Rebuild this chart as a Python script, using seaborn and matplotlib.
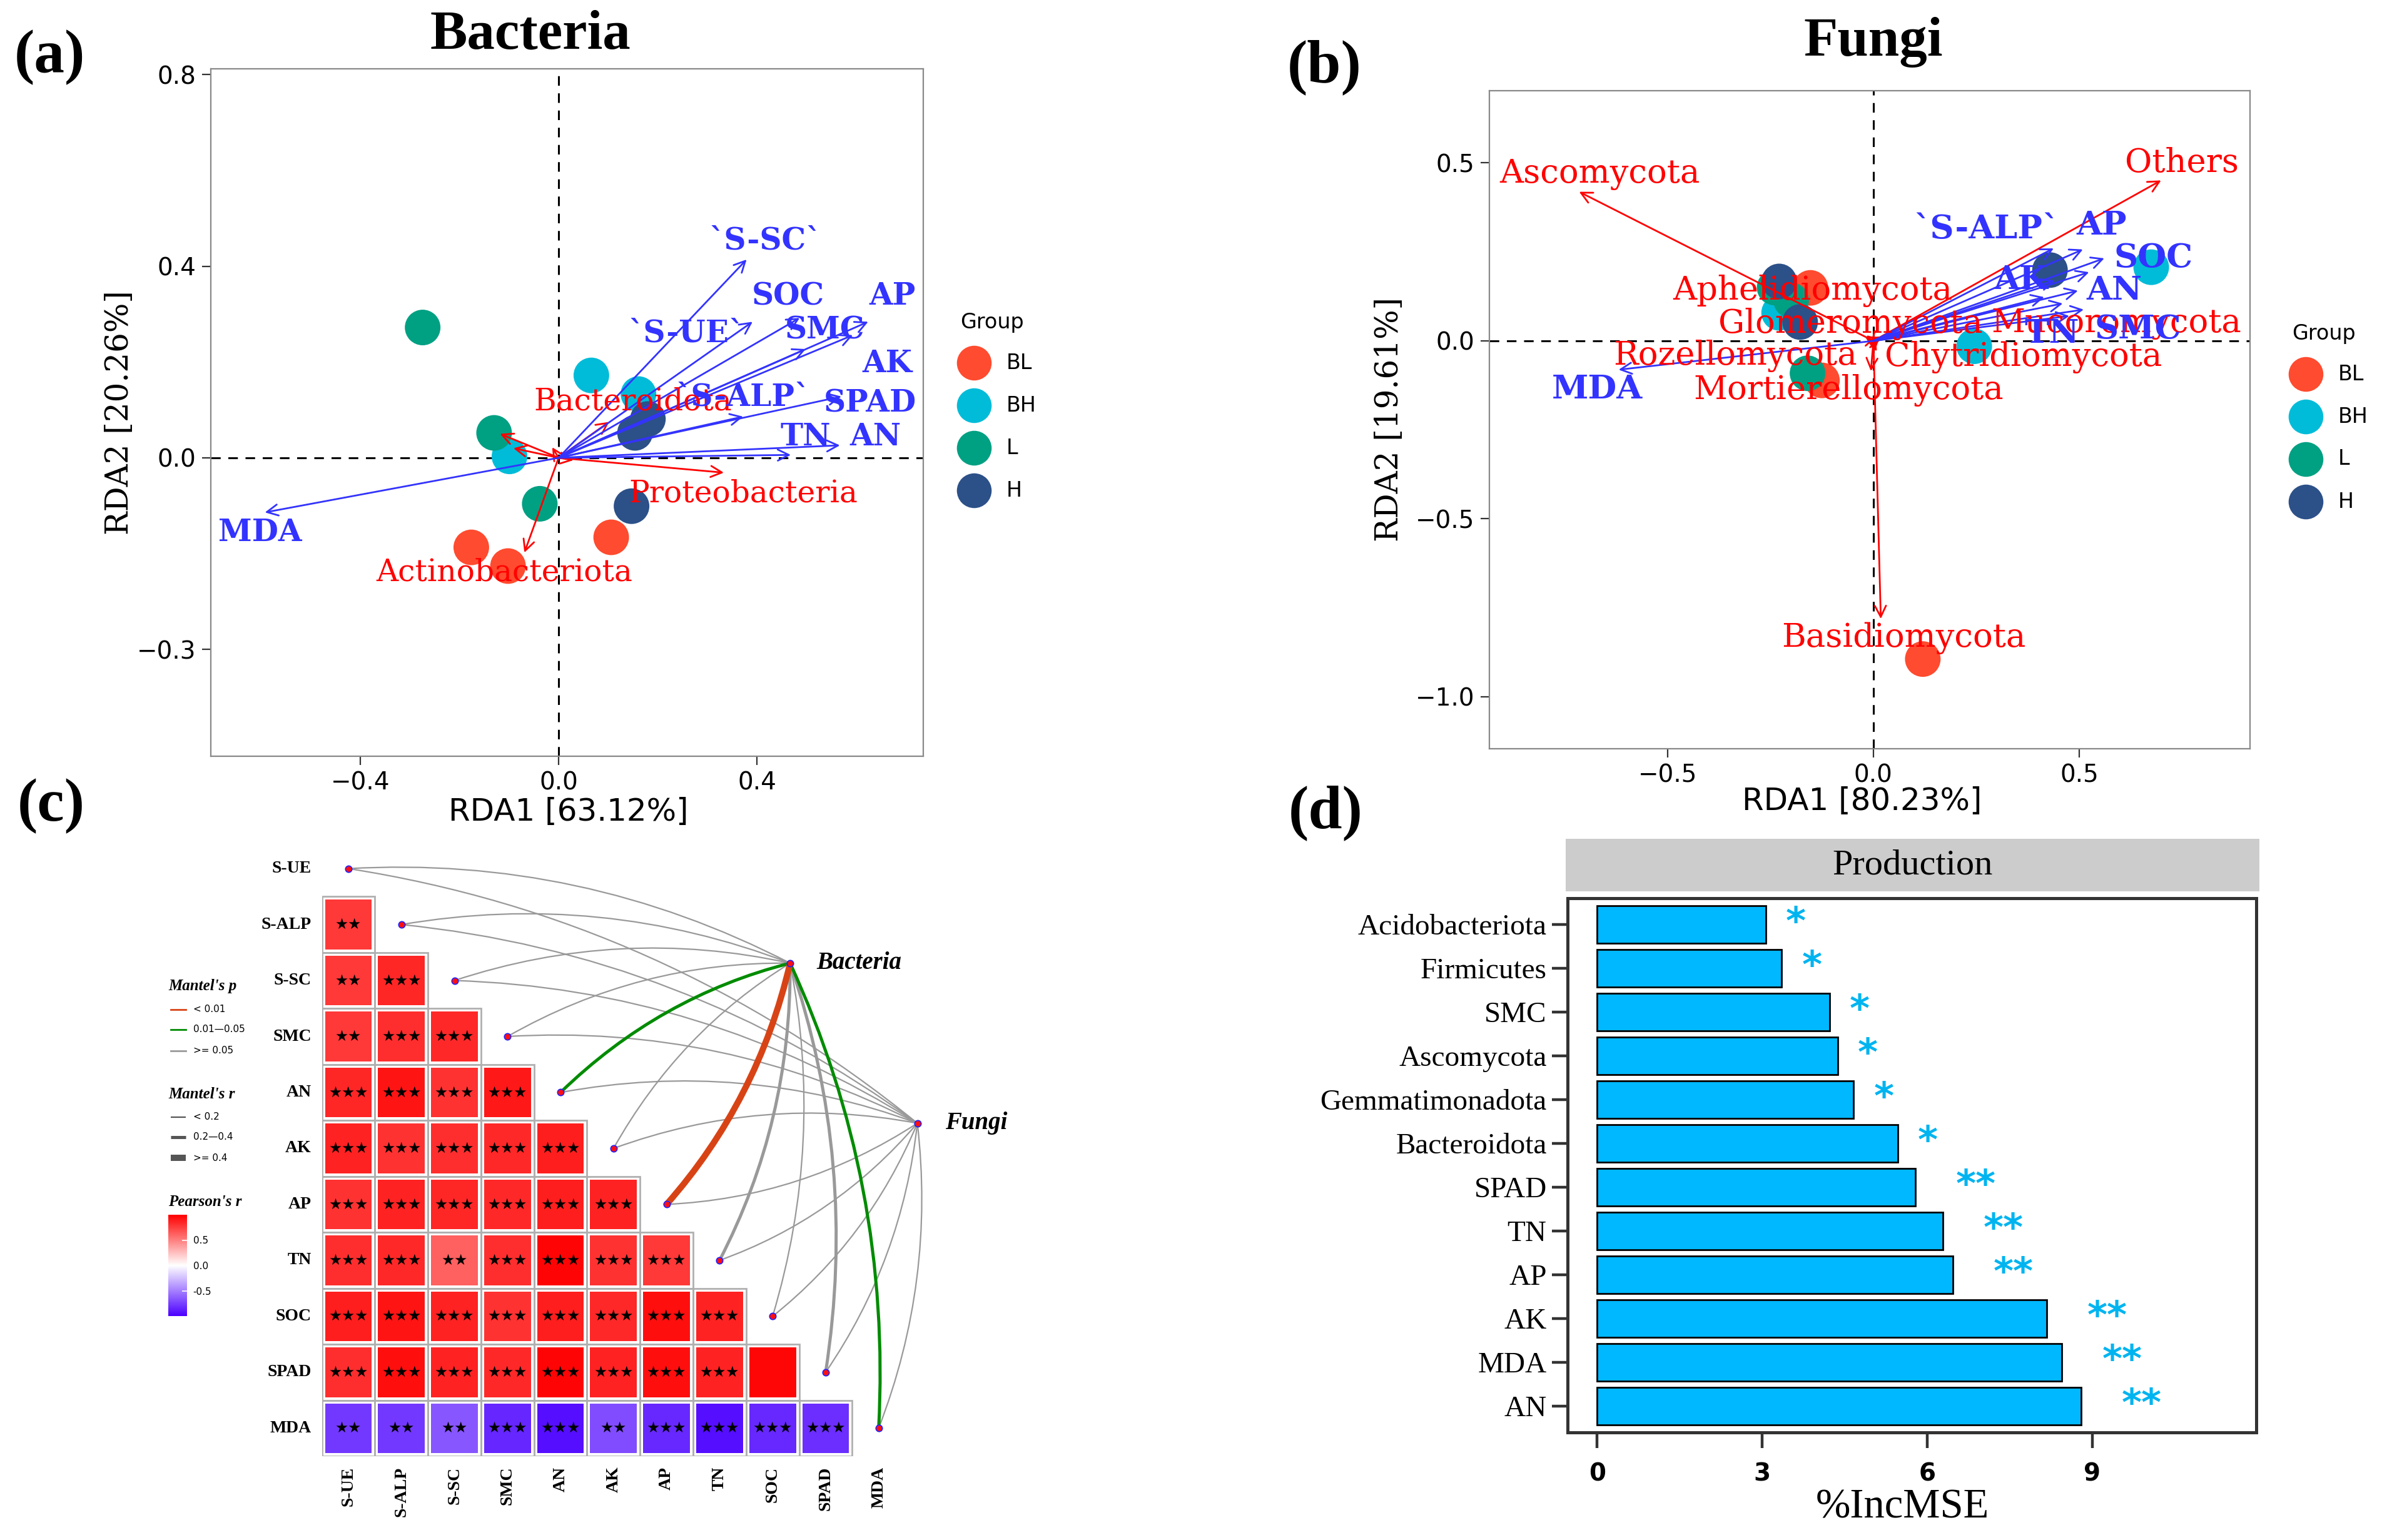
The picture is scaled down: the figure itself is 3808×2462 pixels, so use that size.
import numpy as np
import pandas as pd
import seaborn as sns
import matplotlib.pyplot as plt
from matplotlib.lines import Line2D
from matplotlib.path import Path
from matplotlib.patches import PathPatch, Rectangle
from matplotlib.colors import LinearSegmentedColormap

W, H = 3808, 2462


def box(l, t, r, b):
    return [l / W, 1 - b / H, (r - l) / W, (b - t) / H]


def fx(x):
    return x / W


def fy(y):
    return 1 - y / H


groups = ['BL', 'BH', 'L', 'H']
group_colors = ['#FF4B2F', '#00BCD8', '#00A083', '#2C5088']
env_blue = '#3333FF'
taxa_red = '#FF0000'

# ---------------- (a) Bacteria RDA ----------------
bac_site_x = [0.106, -0.176, -0.102, 0.066, 0.161, -0.099, -0.274, -0.130, -0.038, 0.180, 0.154, 0.147]
bac_site_y = [-0.166, -0.187, -0.226, 0.172, 0.133, 0.003, 0.272, 0.052, -0.096, 0.081, 0.052, -0.101]
bac_site_group = ['BL'] * 3 + ['BH'] * 3 + ['L'] * 3 + ['H'] * 3

bac_env = ['`S-UE`', '`S-ALP`', '`S-SC`', 'SMC', 'AN', 'AK', 'AP', 'TN', 'SOC', 'SPAD', 'MDA']
bac_env_x = [0.391, 0.372, 0.379, 0.593, 0.567, 0.498, 0.624, 0.468, 0.486, 0.570, -0.592]
bac_env_y = [0.284, 0.086, 0.414, 0.256, 0.026, 0.227, 0.284, 0.006, 0.292, 0.128, -0.114]
bac_env_lx = [0.257, 0.372, 0.417, 0.537, 0.639, 0.662, 0.673, 0.498, 0.463, 0.627, -0.602]
bac_env_ly = [0.260, 0.126, 0.453, 0.266, 0.043, 0.196, 0.337, 0.043, 0.337, 0.114, -0.156]

bac_taxa = ['Proteobacteria', 'Actinobacteriota', 'Bacteroidota', '', '', '', '']
bac_taxa_x = [0.333, -0.069, 0.102, -0.118, -0.091, -0.013, 0.030]
bac_taxa_y = [-0.031, -0.198, 0.075, 0.050, 0.020, 0.022, -0.005]
bac_taxa_lx = [0.372, -0.110, 0.150, 0, 0, 0, 0]
bac_taxa_ly = [-0.075, -0.239, 0.117, 0, 0, 0, 0]

# ---------------- (b) Fungi RDA ----------------
fun_site_x = [0.120, -0.153, -0.125, -0.229, 0.675, 0.245, -0.240, -0.200, -0.160, -0.229, -0.178, 0.429]
fun_site_y = [-0.894, 0.149, -0.111, 0.079, 0.207, -0.015, 0.150, 0.114, -0.091, 0.167, 0.053, 0.199]
fun_site_group = ['BL'] * 3 + ['BH'] * 3 + ['L'] * 3 + ['H'] * 3

fun_env = ['', '`S-ALP`', '', 'SMC', 'AN', 'AK', 'AP', 'TN', 'SOC', '', 'MDA']
fun_env_x = [0.415, 0.438, 0.440, 0.511, 0.497, 0.524, 0.509, 0.476, 0.561, 0.460, -0.619]
fun_env_y = [0.123, 0.260, 0.170, 0.088, 0.141, 0.193, 0.257, 0.070, 0.232, 0.105, -0.081]
fun_env_lx = [0, 0.275, 0, 0.643, 0.585, 0.359, 0.555, 0.433, 0.681, 0, -0.671]
fun_env_ly = [0, 0.313, 0, 0.032, 0.141, 0.172, 0.325, 0.021, 0.232, 0, -0.137]

fun_taxa = ['Ascomycota', 'Others', 'Basidiomycota', 'Aphelidiomycota', 'Glomeromycota',
            'Mucoromycota', 'Rozellomycota', 'Chytridiomycota', 'Mortierellomycota']
fun_taxa_x = [-0.715, 0.699, 0.018, -0.020, 0.005, 0.020, -0.008, -0.006, 0.003]
fun_taxa_y = [0.419, 0.451, -0.781, 0.010, 0.015, 0.005, -0.010, -0.085, -0.030]
fun_taxa_lx = [-0.665, 0.749, 0.074, -0.148, -0.055, 0.590, -0.336, 0.364, -0.061]
fun_taxa_ly = [0.468, 0.500, -0.835, 0.141, 0.048, 0.048, -0.043, -0.046, -0.139]

# ---------------- (c) correlation + Mantel ----------------
vars_c = ['S-UE', 'S-ALP', 'S-SC', 'SMC', 'AN', 'AK', 'AP', 'TN', 'SOC', 'SPAD', 'MDA']
r_rows = [
    [],
    [0.78],
    [0.78, 0.85],
    [0.78, 0.82, 0.84],
    [0.85, 0.92, 0.80, 0.90],
    [0.86, 0.80, 0.82, 0.84, 0.88],
    [0.80, 0.86, 0.85, 0.84, 0.88, 0.86],
    [0.82, 0.84, 0.62, 0.82, 0.98, 0.80, 0.78],
    [0.88, 0.92, 0.86, 0.80, 0.88, 0.84, 0.94, 0.86],
    [0.82, 0.94, 0.86, 0.84, 0.98, 0.86, 0.94, 0.86, 0.97],
    [-0.78, -0.78, -0.66, -0.85, -0.94, -0.70, -0.84, -0.94, -0.84, -0.82],
]
sig_rows = [
    [],
    ['**'],
    ['**', '***'],
    ['**', '***', '***'],
    ['***'] * 4,
    ['***'] * 5,
    ['***'] * 6,
    ['***', '***', '**', '***', '***', '***', '***'],
    ['***'] * 8,
    ['***'] * 8 + [''],
    ['**', '**', '**', '***', '***', '**', '***', '***', '***', '***'],
]
mantel_bac_p = ['>=0.05'] * 4 + ['0.01-0.05', '>=0.05', '<0.01', '>=0.05', '>=0.05', '>=0.05', '0.01-0.05']
mantel_bac_r = ['<0.2'] * 4 + ['0.2-0.4', '<0.2', '>=0.4', '0.2-0.4', '<0.2', '0.2-0.4', '0.2-0.4']
mantel_fun_p = ['>=0.05'] * 11
mantel_fun_r = ['<0.2'] * 11

# ---------------- (d) random forest importance ----------------
imp_names = ['Acidobacteriota', 'Firmicutes', 'SMC', 'Ascomycota', 'Gemmatimonadota', 'Bacteroidota',
             'SPAD', 'TN', 'AP', 'AK', 'MDA', 'AN']
imp_vals = [3.06, 3.35, 4.22, 4.37, 4.66, 5.46, 5.78, 6.28, 6.46, 8.17, 8.44, 8.80]
imp_sig = ['*'] * 6 + ['**'] * 6

fig = plt.figure(figsize=(W / 200, H / 200), dpi=200)


def rda_panel(ax, sx, sy, sg, env, ex, ey, elx, ely, taxa, tx, ty, tlx, tly, fs):
    df = pd.DataFrame({'RDA1': sx, 'RDA2': sy, 'Group': sg})
    sns.scatterplot(data=df, x='RDA1', y='RDA2', hue='Group', hue_order=groups,
                    palette=group_colors, s=420, edgecolor='none', linewidth=0,
                    legend=False, ax=ax, zorder=2)
    ax.axhline(0, color='black', lw=1.1, ls=(0, (5, 4)), zorder=1)
    ax.axvline(0, color='black', lw=1.1, ls=(0, (5, 4)), zorder=1)
    for x, y in zip(tx, ty):
        ax.annotate('', xy=(x, y), xytext=(0, 0),
                    arrowprops=dict(arrowstyle='->', color=taxa_red, lw=1.0,
                                    shrinkA=0, shrinkB=0, mutation_scale=16), zorder=3)
    for x, y in zip(ex, ey):
        ax.annotate('', xy=(x, y), xytext=(0, 0),
                    arrowprops=dict(arrowstyle='->', color=env_blue, lw=1.0,
                                    shrinkA=0, shrinkB=0, mutation_scale=16), zorder=3)
    for lab, x, y in zip(taxa, tlx, tly):
        if lab:
            ax.text(x, y, lab, color=taxa_red, fontsize=fs, family='DejaVu Serif',
                    ha='center', va='center', zorder=4)
    for lab, x, y in zip(env, elx, ely):
        if lab:
            ax.text(x, y, lab, color=env_blue, fontsize=fs, family='DejaVu Serif',
                    fontweight='bold', ha='center', va='center', zorder=4)
    for sp in ax.spines.values():
        sp.set_color('#888888')
        sp.set_linewidth(0.8)
    ax.tick_params(labelsize=14, length=5, width=0.8, color='#333333')
    ax.xaxis.label.set(ha='center', va='center')
    ax.yaxis.label.set(ha='center', va='center')


# (a)
ax_a = fig.add_axes(box(337, 110, 1476, 1209))
rda_panel(ax_a, bac_site_x, bac_site_y, bac_site_group, bac_env, bac_env_x, bac_env_y,
          bac_env_lx, bac_env_ly, bac_taxa, bac_taxa_x, bac_taxa_y, bac_taxa_lx, bac_taxa_ly, 17.5)
ax_a.set_xlim(-0.701, 0.735)
ax_a.set_ylim(-0.623, 0.812)
ax_a.set_xticks([-0.4, 0.0, 0.4])
ax_a.set_yticks([0.8, 0.4, 0.0, -0.4])
ax_a.set_yticklabels(['0.8', '0.4', '0.0', '\u22120.3'])
ax_a.set_xlabel('RDA1 [63.12%]', fontsize=18, family='DejaVu Sans')
ax_a.set_ylabel('RDA2 [20.26%]', fontsize=18, family='DejaVu Serif')
ax_a.xaxis.set_label_coords(0.502, -0.081)
ax_a.yaxis.set_label_coords(-0.128, 0.5)

# (b)
ax_b = fig.add_axes(box(2381, 145, 3597, 1197))
rda_panel(ax_b, fun_site_x, fun_site_y, fun_site_group, fun_env, fun_env_x, fun_env_y,
          fun_env_lx, fun_env_ly, fun_taxa, fun_taxa_x, fun_taxa_y, fun_taxa_lx, fun_taxa_ly, 19)
ax_b.set_xlim(-0.933, 0.915)
ax_b.set_ylim(-1.146, 0.703)
ax_b.set_xticks([-0.5, 0.0, 0.5])
ax_b.set_yticks([0.5, 0.0, -0.5, -1.0])
ax_b.set_xlabel('RDA1 [80.23%]', fontsize=18, family='DejaVu Sans')
ax_b.set_ylabel('RDA2 [19.61%]', fontsize=18, family='DejaVu Serif')
ax_b.xaxis.set_label_coords(0.49, -0.08)
ax_b.yaxis.set_label_coords(-0.131, 0.5)

# group legends
for gx, gy in [(1557, 516), (3686, 534)]:
    fig.text(fx(gx - 22), fy(gy), 'Group', fontsize=12, family='DejaVu Sans', ha='left', va='center')
    for k, (g, c) in enumerate(zip(groups, group_colors)):
        yy = gy + 64 + 68 * k
        fig.add_artist(Line2D([fx(gx)], [fy(yy)], marker='o', markersize=20, color=c,
                              markeredgewidth=0, transform=fig.transFigure))
        fig.text(fx(gx + 52), fy(yy), g, fontsize=12, family='DejaVu Sans', ha='left', va='center')

# titles and panel letters
fig.text(fx(848), fy(56), 'Bacteria', fontsize=32, family='Liberation Serif', fontweight='bold',
         ha='center', va='center')
fig.text(fx(2995), fy(68), 'Fungi', fontsize=32, family='Liberation Serif', fontweight='bold',
         ha='center', va='center')
for lab, x, y in [('(a)', 79, 92), ('(b)', 2117, 108), ('(c)', 82, 1289), ('(d)', 2119, 1300)]:
    fig.text(fx(x), fy(y), lab, fontsize=35, family='Liberation Serif', fontweight='bold',
             ha='center', va='center')

# ---------------- (c) ----------------
n = len(vars_c)
corr = np.full((n, n), np.nan)
stars = np.full((n, n), '', dtype=object)
for i in range(n):
    for j, (v, s) in enumerate(zip(r_rows[i], sig_rows[i])):
        corr[i, j] = v
        stars[i, j] = s.replace('*', '\u2605')
corr_df = pd.DataFrame(corr, index=vars_c, columns=vars_c)
mask = np.isnan(corr)

cmap_r = LinearSegmentedColormap.from_list('pr', ['#4B00FF', '#FFFFFF', '#FF0000'])
ax_c = fig.add_axes(box(514.6, 1326, 1659, 2328))
cax = fig.add_axes(box(269, 1942, 299, 2104))
sns.heatmap(corr_df, mask=mask, cmap=cmap_r, vmin=-1, vmax=1, annot=stars, fmt='',
            annot_kws={'fontsize': 8.5, 'color': 'black', 'family': 'DejaVu Sans'},
            linewidths=3, linecolor='white', cbar_ax=cax,
            cbar_kws={'ticks': [0.5, 0.0, -0.5]}, ax=ax_c)
for i in range(n):
    for j in range(n):
        if not mask[i, j]:
            ax_c.add_patch(Rectangle((j, i), 1, 1, fill=False, edgecolor='#b0b0b0', lw=1.0, zorder=3))
ax_c.set_xlim(0, 13.5)
ax_c.set_ylim(11, -0.2)
ax_c.set_xticks(np.arange(n) + 0.5)
ax_c.set_yticks(np.arange(n) + 0.5)
ax_c.set_xticklabels(vars_c, rotation=90, fontsize=10, family='Liberation Serif', fontweight='bold', va='top')
ax_c.set_yticklabels(vars_c, rotation=0, fontsize=10, family='Liberation Serif', fontweight='bold')
ax_c.tick_params(length=0, pad=6)
ax_c.set_xlabel('')
ax_c.set_ylabel('')

cbar = ax_c.collections[0].colorbar
cbar.outline.set_visible(False)
cax.tick_params(labelsize=5.5, length=3, color='white', direction='in', width=0.6)
cax.set_yticklabels(['0.5', '0.0', '-0.5'])

p_color = {'<0.01': '#D84315', '0.01-0.05': '#008B00', '>=0.05': '#999999'}
r_width = {'<0.2': 0.8, '0.2-0.4': 1.8, '>=0.4': 3.6}
bac_node = (8.83, 2.19)
fun_node = (11.23, 5.05)


def curve(ax, p0, p1, rad, **kw):
    (x0, y0), (x1, y1) = p0, p1
    dx, dy = x1 - x0, y1 - y0
    cx = (x0 + x1) / 2 + rad * dy
    cy = (y0 + y1) / 2 - rad * dx
    path = Path([(x0, y0), (cx, cy), (x1, y1)], [Path.MOVETO, Path.CURVE3, Path.CURVE3])
    ax.add_patch(PathPatch(path, fill=False, capstyle='round', **kw))


links = []
for node, plist, rlist in [(bac_node, mantel_bac_p, mantel_bac_r), (fun_node, mantel_fun_p, mantel_fun_r)]:
    for i in range(n):
        links.append((i, node, plist[i], rlist[i]))
links.sort(key=lambda t: (t[2] != '>=0.05', r_width[t[3]]))
for i, node, p, r in links:
    rad = 0.13 if i < 6 else -0.13
    curve(ax_c, (i + 0.5, i + 0.5), node, rad, edgecolor=p_color[p], lw=r_width[r], zorder=4)

node_x = [i + 0.5 for i in range(n)] + [bac_node[0], fun_node[0]]
node_y = [i + 0.5 for i in range(n)] + [bac_node[1], fun_node[1]]
ax_c.scatter(node_x, node_y, s=14, color='#FF1010', edgecolor='#2020FF', linewidth=0.6, zorder=5, clip_on=False)
ax_c.text(bac_node[0] + 0.5, bac_node[1], 'Bacteria', fontsize=14, family='Liberation Serif',
          fontweight='bold', style='italic', ha='left', va='center')
ax_c.text(fun_node[0] + 0.53, fun_node[1], 'Fungi', fontsize=14, family='Liberation Serif',
          fontweight='bold', style='italic', ha='left', va='center')

# Mantel legends
fig.text(fx(269), fy(1577), "Mantel's p", fontsize=9, family='Liberation Serif', fontweight='bold',
         style='italic', ha='left', va='center')
for k, (lab, key) in enumerate([('< 0.01', '<0.01'), ('0.01\u20140.05', '0.01-0.05'), ('>= 0.05', '>=0.05')]):
    yy = [1614, 1646, 1680][k]
    fig.add_artist(Line2D([fx(273), fx(297)], [fy(yy), fy(yy)], color=p_color[key], lw=1.0,
                          transform=fig.transFigure))
    fig.text(fx(309), fy(yy), lab, fontsize=5.5, family='DejaVu Sans', ha='left', va='center')
fig.text(fx(269), fy(1749), "Mantel's r", fontsize=9, family='Liberation Serif', fontweight='bold',
         style='italic', ha='left', va='center')
for k, (lab, key) in enumerate([('< 0.2', '<0.2'), ('0.2\u20140.4', '0.2-0.4'), ('>= 0.4', '>=0.4')]):
    yy = [1786, 1818, 1851][k]
    fig.add_artist(Line2D([fx(273), fx(297)], [fy(yy), fy(yy)], color='#555555', lw=r_width[key],
                          transform=fig.transFigure, solid_capstyle='butt'))
    fig.text(fx(309), fy(yy), lab, fontsize=5.5, family='DejaVu Sans', ha='left', va='center')
fig.text(fx(269), fy(1921), "Pearson's r", fontsize=9, family='Liberation Serif', fontweight='bold',
         style='italic', ha='left', va='center')

# ---------------- (d) ----------------
ax_s = fig.add_axes(box(2503, 1341, 3612, 1425))
ax_s.set_facecolor('#CCCCCC')
ax_s.set_xticks([])
ax_s.set_yticks([])
for sp in ax_s.spines.values():
    sp.set_visible(False)
ax_s.text(0.5, 0.5, 'Production', fontsize=21, family='Liberation Serif', ha='center', va='center',
          transform=ax_s.transAxes)

ax_d = fig.add_axes(box(2506, 1436, 3607, 2290))
imp_df = pd.DataFrame({'var': imp_names, 'IncMSE': imp_vals})
sns.barplot(data=imp_df, x='IncMSE', y='var', orient='h', color='#00B8FF', edgecolor='black',
            linewidth=1.0, width=0.87, saturation=1, ax=ax_d)
for i, (v, s) in enumerate(zip(imp_vals, imp_sig)):
    ax_d.text(v + 0.55 * len(s), i - 0.02, s, color='#00B4F0', fontsize=22, fontweight='bold',
              family='DejaVu Sans', ha='center', va='center')
ax_d.set_xlim(-0.54, 11.98)
ax_d.set_ylim(11.6, -0.6)
ax_d.set_xticks([0, 3, 6, 9])
ax_d.set_xticklabels(['0', '3', '6', '9'], fontweight='bold', fontsize=14)
for lab in ax_d.get_yticklabels():
    lab.set_fontfamily('Liberation Serif')
    lab.set_fontsize(17)
ax_d.tick_params(axis='both', length=9, width=1.6, color='#333333', pad=3)
ax_d.tick_params(axis='x', pad=8)
for sp in ax_d.spines.values():
    sp.set_color('#333333')
    sp.set_linewidth(1.8)
ax_d.set_ylabel('')
ax_d.set_xlabel('%IncMSE', fontsize=24, family='Liberation Serif')
ax_d.xaxis.label.set(ha='center', va='center')
ax_d.xaxis.set_label_coords(0.486, -0.1405)

fig.savefig('out.png', dpi=200)
